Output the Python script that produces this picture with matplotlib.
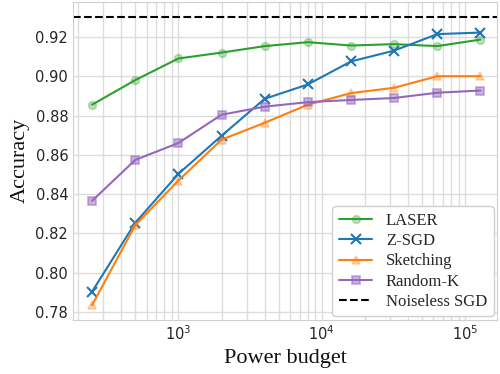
import numpy as np
import matplotlib
matplotlib.use("Agg")
import matplotlib.pyplot as plt
import seaborn as sns

# Power budgets (x) and accuracy per method
budget = [250, 500, 1000, 2000, 4000, 8000, 16000, 32000, 64000, 128000]
laser = [0.8855, 0.898, 0.909, 0.912, 0.9153, 0.9173, 0.9156, 0.9163, 0.9153, 0.9186]
zsgd = [0.7904, 0.8254, 0.8503, 0.8697, 0.8885, 0.8958, 0.9075, 0.913, 0.9214, 0.9222]
sketching = [0.7835, 0.8242, 0.8469, 0.8677, 0.8763, 0.8855, 0.8914, 0.8941, 0.90, 0.90]
random_k = [0.8366, 0.8574, 0.866, 0.8804, 0.8845, 0.8868, 0.8879, 0.8889, 0.8916, 0.8927]
noiseless = 0.93

sns.set_style("whitegrid")
plt.rcParams["font.family"] = "DejaVu Sans"

fig, ax = plt.subplots(figsize=(5, 3.74), dpi=100)

green, blue, orange, purple = "#2ca02c", "#1f77b4", "#ff7f0e", "#9467bd"

def light(c, a=0.3):
    return matplotlib.colors.to_rgba(c, a)

ax.plot(budget, laser, color=green, marker="o", ms=5.5, mfc=light(green), mew=1.3, lw=1.5, label="LASER")
ax.plot(budget, zsgd, color=blue, marker="x", ms=6.5, mew=1.5, lw=1.5, label="Z-SGD")
ax.plot(budget, sketching, color=orange, marker="^", ms=6, mfc=light(orange), mew=1.3, lw=1.5, label="Sketching")
ax.plot(budget, random_k, color=purple, marker="s", ms=5.5, mfc=light(purple, 0.5), mew=1.3, lw=1.5, label="Random-K")
ax.axhline(noiseless, color="black", ls="--", lw=1.5, label="Noiseless SGD")

ax.set_xscale("log")
ax.set_xlim(184, 167000)
ax.set_ylim(0.7761, 0.9378)
ax.set_yticks([0.78, 0.80, 0.82, 0.84, 0.86, 0.88, 0.90, 0.92])
ax.yaxis.set_major_formatter(matplotlib.ticker.FormatStrFormatter("%.2f"))
ax.grid(True, which="both", color="#dddddd", lw=1)
ax.tick_params(labelsize=10.5, colors="#262626", length=0, which="both")
for s in ax.spines.values():
    s.set_color("#d0d0d0")

serif = "Liberation Serif"
ax.set_xlabel("Power budget", fontsize=16, family=serif, color="#111111")
ax.set_ylabel("Accuracy", fontsize=16, family=serif, color="#111111")
ax.legend(loc="lower right", prop={"family": serif, "size": 12}, framealpha=1,
          edgecolor="#d0d0d0", fancybox=True, borderpad=0.4, labelspacing=0.25,
          handlelength=2.0, borderaxespad=0.2)

fig.subplots_adjust(left=0.146, right=0.994, top=0.995, bottom=0.145)
fig.savefig("out.png", dpi=100)
